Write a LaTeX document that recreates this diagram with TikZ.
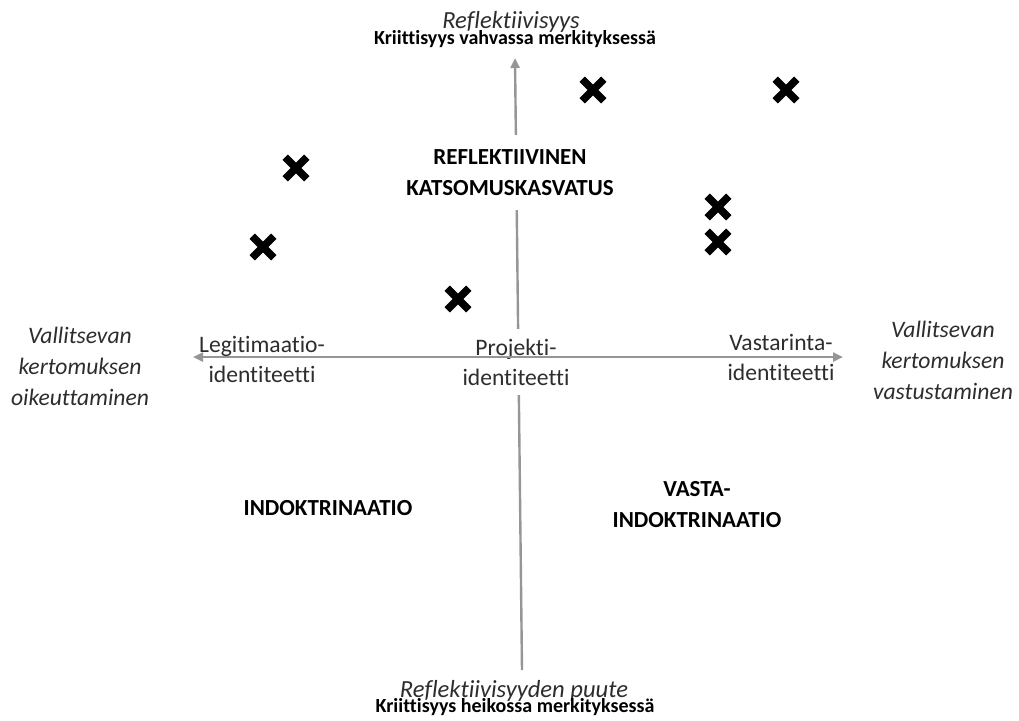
\documentclass[tikz,border=0pt]{standalone}
\usepackage{fontspec}
\setmainfont{Carlito}[Ligatures=NoCommon]
\usetikzlibrary{arrows.meta}
\usetikzlibrary{shapes.misc}
\definecolor{axisgray}{RGB}{150,150,150}
\definecolor{labelgray}{RGB}{45,45,45}

\begin{document}
\begin{tikzpicture}[x=0.5pt, y=-0.5pt,
    axis/.style = {draw=axisgray, line width=1.2pt},
    tip/.style = {-{Triangle[length=5pt, width=4.5pt]}},
    cross/.style = {cross out, draw=black, line width=3.8pt, minimum size=7pt, inner sep=0pt},
    lbl/.style = {align=center, font=\fontsize{11.8}{15}\selectfont, text=labelgray},
    side/.style = {align=center, font=\fontsize{11.8}{15.5}\selectfont\itshape, text=labelgray},
    quad/.style = {align=center, font=\fontsize{11.5}{15.5}\selectfont\bfseries}]

    \useasboundingbox (0,0) rectangle (1019,720);

    \coordinate (vtop) at (515,58);
    \coordinate (vbot) at (522,670);
    \coordinate (hleft) at (193,357);
    \coordinate (hright) at (843,357);

    % vertical axis, broken by the white boxes below
    \draw[axis, tip] (vbot) -- (vtop);

    \node[quad, fill=white, inner ysep=7pt] (refkat) at (510,172.5) {REFLEKTIIVINEN\\KATSOMUSKASVATUS};
    \node[lbl, fill=white, inner ysep=5pt] (proj) at (516,362) {Projekti-\\identiteetti};

    % horizontal axis
    \draw[axis, {Triangle[length=5pt, width=4.5pt]}-{Triangle[length=5pt, width=4.5pt]}] (hleft) -- (hright);

    % ends of the axes
    \node[font=\fontsize{12.3}{13}\selectfont\itshape, text=labelgray, anchor=base] (reftop) at (511,28) {Reflektiivisyys};
    \node[font=\fontsize{10}{12}\selectfont\bfseries, anchor=base] (krittop) at (515,44) {Kriittisyys vahvassa merkityksessä};
    \node[font=\fontsize{12.3}{13}\selectfont\itshape, text=labelgray, anchor=base] (refbot) at (514,697) {Reflektiivisyyden puute};
    \node[font=\fontsize{10}{12}\selectfont\bfseries, anchor=base] (kritbot) at (515,712) {Kriittisyys heikossa merkityksessä};

    \node[side] (oik) at (80,366) {Vallitsevan\\kertomuksen\\oikeuttaminen};
    \node[side] (vast) at (943,360) {Vallitsevan\\kertomuksen\\vastustaminen};

    \node[lbl] (legit) at (262,359) {Legitimaatio-\\identiteetti};
    \node[lbl] (vastar) at (781,357) {Vastarinta-\\identiteetti};

    % quadrants
    \node[quad] (indok) at (328,508) {INDOKTRINAATIO};
    \node[quad] (vindok) at (697,505) {VASTA-\\INDOKTRINAATIO};

    % the marks
    \foreach \p [count=\i] in {(593,90), (786,90), (296,168), (718,207), (718,242), (263,247), (458,299)}
        \node[cross] (x\i) at \p {};

\end{tikzpicture}
\end{document}
